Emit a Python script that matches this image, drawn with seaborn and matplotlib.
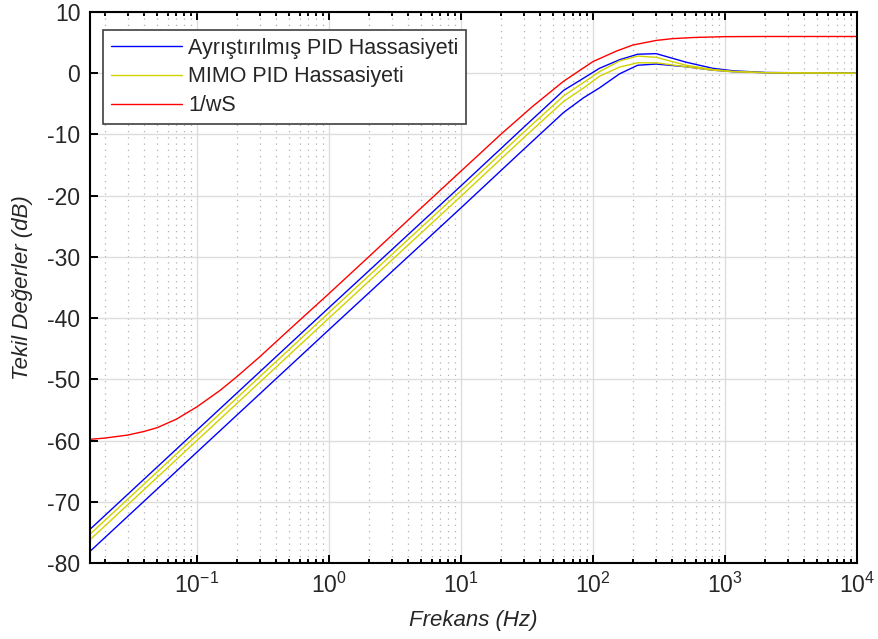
import numpy as np
import pandas as pd
import matplotlib
matplotlib.use("Agg")
import matplotlib.pyplot as plt
import seaborn as sns
from matplotlib.ticker import FixedLocator, NullFormatter, LogFormatterSciNotation, MultipleLocator

# ---- data ----
freq = [0.0155, 0.1, 1, 10, 30, 60, 85, 112, 159, 218, 301, 508, 809, 1150, 2040, 10000]
decoupled_max = [-74.5, -58.3, -38.3, -18.4, -8.8, -2.8, -0.8, 0.8, 2.2, 3.1, 3.2, 1.8, 0.8, 0.4, 0.12, 0.0]
decoupled_min = [-78.1, -61.9, -41.9, -22.0, -12.4, -6.4, -4.0, -2.4, -0.1, 1.3, 1.5, 1.05, 0.5, 0.25, 0.08, 0.0]
mimo_max = [-75.3, -59.1, -39.1, -19.2, -9.6, -3.7, -1.5, 0.25, 2.0, 2.8, 2.6, 1.3, 0.6, 0.3, 0.1, 0.0]
mimo_min = [-76.2, -60.0, -40.0, -20.1, -10.5, -4.6, -2.4, -0.5, 1.0, 1.7, 1.7, 1.05, 0.5, 0.25, 0.08, 0.0]

red_freq = [0.0155, 0.02, 0.03, 0.04, 0.05, 0.07, 0.1, 0.15, 0.2, 0.3, 0.5, 1, 2, 5, 10, 20,
            35, 60, 100, 150, 200, 300, 400, 600, 1000, 2000, 10000]
inv_ws = [-59.8, -59.6, -59.1, -58.5, -57.9, -56.5, -54.5, -51.8, -49.6, -46.3, -41.9, -36.0,
          -30.0, -22.0, -16.0, -10.0, -5.4, -1.3, 1.9, 3.6, 4.6, 5.35, 5.65, 5.85, 5.97, 6.0, 6.0]

series_names = ["Ayrıştırılmış PID Hassasiyeti", "MIMO PID Hassasiyeti", "1/wS"]
colors = ["#0000ff", "#d2d200", "#ff0000"]
x_label = "Frekans (Hz)"
y_label = "Tekil Değerler (dB)"
x_major_ticks = [0.1, 1, 10, 100, 1000, 10000]

rows = []
for name, sv, xs, ys in [
    (series_names[0], "max", freq, decoupled_max),
    (series_names[0], "min", freq, decoupled_min),
    (series_names[1], "max", freq, mimo_max),
    (series_names[1], "min", freq, mimo_min),
    (series_names[2], "max", red_freq, inv_ws),
]:
    for xv, yv in zip(xs, ys):
        rows.append({"f": xv, "dB": yv, "series": name, "sv": sv})
df = pd.DataFrame(rows)

sns.set_style("white")
plt.rcParams["font.family"] = ["Liberation Sans", "DejaVu Sans"]
plt.rcParams["mathtext.fontset"] = "custom"
plt.rcParams["mathtext.rm"] = "Liberation Sans"
plt.rcParams["mathtext.it"] = "Liberation Sans:italic"
plt.rcParams["mathtext.bf"] = "Liberation Sans:bold"
plt.rcParams["axes.unicode_minus"] = False

fig = plt.figure(figsize=(8.79, 6.39), dpi=100)
ax = fig.add_axes([90 / 879, 1 - 563 / 639, (857 - 90) / 879, (563 - 12) / 639])

sns.lineplot(data=df, x="f", y="dB", hue="series", units="sv", estimator=None,
             hue_order=series_names, palette=dict(zip(series_names, colors)),
             linewidth=1.0, sort=False, ax=ax)

ax.set_xscale("log")
ax.set_xlim(freq[0], freq[-1])
ax.set_ylim(-80, 10)
ax.yaxis.set_major_locator(MultipleLocator(10))
minor_ticks = [m * 10.0 ** e for e in range(-2, 4) for m in range(2, 10)
               if freq[0] <= m * 10.0 ** e <= freq[-1]]
ax.xaxis.set_major_locator(FixedLocator(x_major_ticks))
ax.xaxis.set_minor_locator(FixedLocator(minor_ticks))
ax.xaxis.set_major_formatter(LogFormatterSciNotation())
ax.xaxis.set_minor_formatter(NullFormatter())

ax.set_axisbelow(True)
ax.grid(True, which="major", axis="both", color="#dddddd", linewidth=1.0, linestyle="-")
ax.xaxis.grid(True, which="minor", color="#b0b0b0", linewidth=0.9, linestyle=(0, (1, 4)))

for s in ax.spines.values():
    s.set_visible(True)
    s.set_color("black")
    s.set_linewidth(1.5)

ax.tick_params(which="both", direction="in", top=True, right=False, left=True, bottom=True,
               width=1.4, color="black")
ax.tick_params(which="major", length=5.5, labelsize=16.5, pad=7)
ax.tick_params(which="minor", length=3.2)
ax.tick_params(axis="y", which="minor", left=False)

ax.set_xlabel(x_label, fontsize=16, style="italic", labelpad=9)
ax.set_ylabel(y_label, fontsize=16, style="italic", labelpad=10)

leg = ax.legend(loc="upper left", bbox_to_anchor=(0.017, 0.967), borderaxespad=0,
                fontsize=15.5, frameon=True, fancybox=False, framealpha=1,
                edgecolor="#404040", handlelength=3.3, handletextpad=0.3,
                labelspacing=0.36, borderpad=0.35, title=None)
leg.get_frame().set_linewidth(1.2)

fig.savefig("out.png", dpi=100)
